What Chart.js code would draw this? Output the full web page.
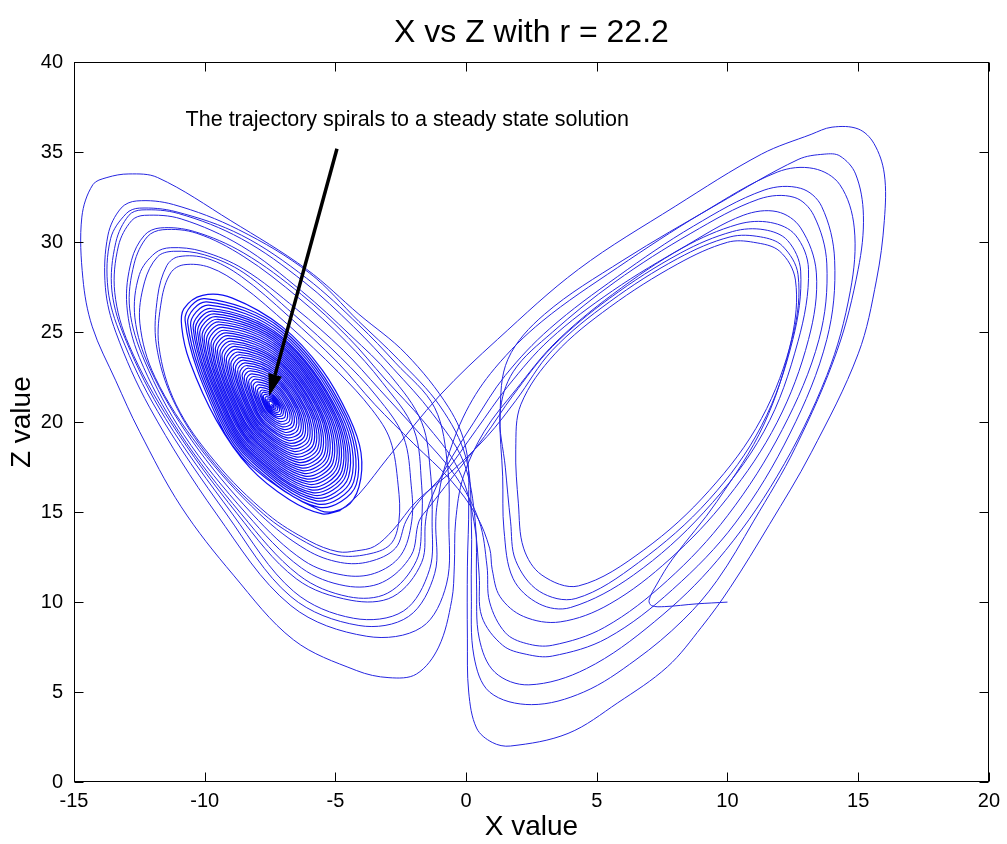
<!DOCTYPE html>
<html>
<head>
<meta charset="utf-8">
<title>X vs Z with r = 22.2</title>
<script src="https://cdn.jsdelivr.net/npm/chart.js@4.4.1/dist/chart.umd.min.js"></script>
<style>
  html, body { margin: 0; padding: 0; background: #fff; }
  canvas { display: block; }
</style>
</head>
<body>
<canvas id="lorenzChart" width="1007" height="844"></canvas>
<script>
// Trajectory as [x, z] pairs, in the order it is travelled.

// start near (10, 10), first loops on the right wing, over to the left wing
const trajStart = [
  [10.0,10.0],[8.8,9.9],[7.6,9.75],[7.1,9.8],[7.0,10.1],[7.3,11.0],[7.9,12.4],[9.6,15.6],[11.4,19.9],
  [12.45,24.6],[12.6,27.9],[12.0,29.5],[11.0,30.0],[10.0,30.0],[8.1,28.8],[5.5,26.4],[3.4,23.8],[2.1,21.0],
  [1.9,18.5],[2.0,15.5],[2.2,13.0],[2.9,11.5],[4.3,10.9],
  [6.8,12.9],[9.3,16.2],[11.3,20.2],[12.5,24.8],[12.7,28.2],[12.1,29.8],[11.27,30.3],[10.1,30.3],[8.1,29.1],
  [5.5,26.7],[3.3,24.0],[1.9,21.2],
  [0.8,19.2],[-0.6,17.2],[-1.9,15.6]
];

const trajEarly = [
  [-2.8,14.0],[-3.5,13.1],[-4.2,12.85],[-4.9,12.8],[-6.0,13.4],[-7.6,14.9],[-9.6,17.8],[-11.1,21.0],
  [-11.75,24.2],[-11.65,26.8],[-11.3,28.3],[-10.8,28.75],[-9.8,28.6],[-8.6,27.6],[-6.8,25.4],[-4.9,22.8],[-3.6,20.7],
  [-2.9,19.0],[-2.6,16.5],
  [-2.57,14.5],[-2.9,13.2],[-3.8,12.65],[-4.9,12.6],[-6.1,13.3],[-7.75,14.9],[-9.8,18.0],[-11.2,21.2],
  [-11.85,24.3],[-11.8,27.0],[-11.45,28.7],[-11.0,29.2],[-9.9,29.1],[-8.6,28.1],[-6.8,25.9],[-4.9,23.3],[-3.5,21.0],
  [-2.0,18.8],[-0.6,16.8],[0.4,14.8],[0.9,13.0],[1.0,11.8],[1.3,10.3],[2.2,9.2],
  [3.6,8.9],[5.5,9.9],[7.8,12.4],[10.0,15.8],[11.9,20.0],[13.1,24.6],[13.4,28.3],[12.8,30.8],[11.9,31.7],
  [10.6,31.5],[8.4,29.8],[5.6,27.3],[3.2,24.6],[1.6,22.0],
  [0.4,19.6],[-0.8,17.2],[-1.8,15.6],
  [-2.3,14.5],[-2.7,13.0],[-3.7,12.25],[-4.8,12.2],[-6.1,12.9],[-7.9,14.9],[-10.2,18.6],[-11.9,22.5],
  [-12.48,25.5],[-12.3,27.8],[-11.8,29.2],[-11.2,29.5],[-10.0,29.3],[-8.5,28.3],[-6.6,26.0],[-4.8,23.6],[-3.4,21.4],
  [-2.4,19.2],[-2.1,16.5]
];

const trajMiddle = [
  [-2.08,14.5],[-2.5,12.6],[-3.5,11.6],[-4.7,11.5],[-6.2,12.3],[-8.18,14.9],[-10.5,19.0],[-12.1,23.0],
  [-12.67,25.8],[-12.5,28.2],[-11.9,29.4],[-11.3,29.7],[-10.1,29.5],[-8.5,28.5],[-6.5,26.3],[-4.7,24.0],[-3.3,21.8],
  [-1.8,19.4],[-0.4,17.0],[0.5,14.5],[0.8,12.0],[0.9,10.0],[1.5,8.3],[2.3,7.7],
  [3.3,7.6],[5.3,8.6],[7.7,11.2],[10.0,14.8],[12.1,19.6],[13.5,24.6],[13.8,28.8],[13.3,31.5],[12.55,32.5],
  [11.2,32.4],[8.6,30.5],[5.7,27.8],[3.3,25.0],[1.8,22.8],[1.3,20.5],
  [1.5,17.5],[1.7,14.5],[1.9,12.3],[2.8,10.6],
  [4.2,10.2],[6.6,12.2],[9.3,15.7],[11.3,19.8],[12.5,24.6],[12.8,28.4],[12.3,30.1],[11.4,30.7],[10.2,30.6],
  [8.2,29.4],[5.5,26.9],[3.3,24.2],[1.8,21.5],
  [0.7,19.2],[-0.6,16.8],[-1.4,15.3],
  [-1.8,14.5],[-2.1,12.6],[-3.2,11.1],[-4.6,10.9],[-6.3,11.9],[-8.4,14.9],[-10.8,19.3],[-12.3,23.4],
  [-12.87,26.3],[-12.7,28.8],[-12.2,30.3],[-11.6,30.7],[-10.3,30.5],[-8.5,29.2],[-6.4,26.9],[-4.6,24.5],[-3.2,22.2],
  [-2.0,19.6],[-1.7,16.5],
  [-1.7,14.5],[-1.9,12.3],[-3.0,10.5],[-4.5,10.3],[-6.4,11.5],[-8.6,14.9],[-11.0,19.5],[-12.5,23.6],
  [-12.98,26.5],[-12.8,29.0],[-12.3,30.4],[-11.7,30.8],[-10.4,30.6],[-8.5,29.4],[-6.3,27.1],[-4.5,24.7],[-3.1,22.4]
];

const trajLate = [
  [-1.6,20.0],[-0.3,17.4],[0.3,14.5],[0.5,11.5],[0.6,9.2],[1.4,7.6],[2.3,7.1],
  [3.3,7.0],[5.4,8.0],[7.9,10.7],[10.3,14.4],[12.4,19.4],[13.8,24.6],[14.1,29.0],[13.6,32.0],[12.8,33.0],
  [11.4,32.9],[8.7,30.9],[5.8,28.1],[3.2,25.2],[1.5,22.6],
  [0.3,20.0],[-0.8,17.4],[-1.4,15.5],
  [-1.55,14.5],[-1.7,12.2],[-2.8,10.3],[-4.4,10.1],[-6.5,11.3],[-8.75,14.9],[-11.3,20.0],[-12.9,24.3],
  [-13.44,27.2],[-13.3,29.8],[-12.8,31.2],[-12.3,31.5],[-10.9,31.3],[-8.6,29.8],[-6.3,27.3],[-4.4,24.8],[-2.9,22.6],
  [-1.7,20.0],[-1.35,17.0],
  [-1.3,14.5],[-1.4,11.8],[-2.4,9.5],[-4.3,9.1],[-6.6,10.6],[-8.94,14.9],[-11.5,20.2],[-13.0,24.5],
  [-13.55,27.3],[-13.4,30.0],[-12.9,31.5],[-12.4,31.8],[-11.0,31.6],[-8.6,30.2],[-6.2,27.8],[-4.3,25.3],[-2.8,23.0],
  [-1.3,20.5],[-0.1,17.8],[0.35,14.5],[0.4,11.0],[0.5,8.0],[1.1,6.1],
  [2.4,5.4],[4.6,6.3],[7.2,8.9],[9.6,12.3],[11.9,17.0],[13.8,22.6],[14.7,27.3],[14.85,30.8],[14.3,33.2],
  [13.3,34.1],[11.9,33.9],[9.0,31.6],[5.8,28.6],[2.9,25.6],[1.1,23.0],
  [0.0,20.6],[-0.8,17.6],[-1.1,15.5],
  [-1.16,14.5],[-1.2,11.6],[-2.2,9.2],[-4.1,8.7],[-6.7,10.3],[-9.17,14.9],[-11.8,20.6],[-13.2,24.8],
  [-13.7,27.4],[-13.6,30.2],[-13.0,31.6],[-12.5,31.9],[-11.1,31.7],[-8.6,30.4],[-6.1,28.0],[-4.1,25.4],[-2.7,23.3],
  [-1.2,20.8],[-0.7,17.5]
];

// last swings, then the long right-wing loop that drops into the left spiral
const trajFinal = [
  [-0.66,14.5],[-0.75,11.0],[-1.7,8.6],[-3.8,8.1],[-6.7,9.8],[-9.55,14.9],[-12.1,20.8],[-13.4,25.0],
  [-13.8,27.5],[-13.7,30.4],[-13.2,31.9],[-12.6,32.3],[-11.2,32.1],[-8.7,30.7],[-6.0,28.3],[-4.1,25.6],[-2.6,23.5],
  [-1.0,20.9],[0.0,18.0],[0.2,14.5],[0.2,10.5],[0.3,7.0],[0.9,5.0],
  [2.5,4.3],[4.5,5.0],[6.5,6.8],[8.3,9.0],[9.6,11.2],[11.0,14.5],[12.6,18.6],[14.2,24.0],[15.0,28.5],
  [15.2,31.5],[14.9,33.8],[14.3,34.8],[13.7,34.9],[12.7,34.6],[9.6,32.1],[6.0,29.0],[3.0,26.0],[1.6,23.5],[1.3,20.5],
  [1.4,17.0],[1.45,14.0],[1.8,11.3],[2.8,9.9],
  [4.0,9.7],[6.4,11.5],[9.1,15.0],[11.4,19.5],[12.7,24.5],[13.1,28.5],[12.6,30.4],[11.65,31.1],[10.4,31.0],
  [8.3,29.7],[5.6,27.1],[3.4,24.4],[1.9,21.8],
  [0.7,19.5],[-0.1,17.0],
  [-0.4,14.5],[-0.45,12.0],[-0.55,10.1],[-1.05,7.5],[-1.9,6.0],[-2.95,5.8],[-4.2,6.2],[-6.6,7.9],[-8.9,11.5],
  [-10.9,15.3],[-12.5,19.5],[-13.4,22.3],[-14.3,25.3],[-14.66,28.0],[-14.7,31.4],[-14.28,33.2],[-13.74,33.6],
  [-12.9,33.8],[-11.8,33.6],[-9.0,31.2],[-6.1,28.5],[-4.1,26.0],[-2.3,23.8],[-0.66,20.8],
  [0.0,18.5],[0.1,15.5],[0.05,12.0],[0.05,8.0],[0.1,5.0],[0.4,3.0],[1.0,2.2],
  [1.7,2.0],[3.9,2.7],[5.8,4.4],[7.7,6.4],[9.0,8.6],[10.1,10.8],[11.6,14.3],[13.2,18.3],[15.0,23.8],
  [15.7,27.9],[16.0,31.2],[16.0,33.8],[15.6,35.5],[15.0,36.3],[14.0,36.4],[13.2,36.0],[11.3,34.9],[8.0,32.0],
  [4.3,28.5],[1.2,24.6],[-1.0,21.5],[-2.95,18.1],[-4.1,16.0],[-4.8,15.1]
];

// the spiral into the steady state near (-7.45, 21.0), one row per turn
const spiralRings = [
  [-5.5,14.9],[-6.77,15.7],[-8.29,17.5],[-9.55,20.1],[-10.58,23.4],[-10.88,25.3],[-10.8,26.3],[-10.08,27.05],
  [-8.94,26.9],[-7.03,25.3],[-5.5,22.9],[-4.48,20.3],[-4.02,18.3],[-4.1,16.4],[-4.6,15.3],
  [-5.56,15.08],[-8.26,17.60],[-9.49,20.13],[-10.75,25.66],[-10.00,26.87],[-7.04,25.17],[-4.57,20.32],[-4.20,16.54],
  [-5.62,15.27],[-8.24,17.71],[-9.42,20.15],[-10.65,25.51],[-9.92,26.69],[-7.06,25.04],[-4.66,20.34],[-4.30,16.68],
  [-5.68,15.45],[-8.21,17.82],[-9.36,20.18],[-10.54,25.37],[-9.84,26.51],[-7.07,24.91],[-4.75,20.36],[-4.40,16.81],
  [-5.73,15.63],[-8.19,17.92],[-9.30,20.21],[-10.44,25.22],[-9.76,26.32],[-7.08,24.78],[-4.84,20.38],[-4.50,16.95],
  [-5.78,15.78],[-8.17,18.01],[-9.25,20.23],[-10.36,25.10],[-9.70,26.17],[-7.09,24.68],[-4.91,20.40],[-4.59,17.07],
  [-5.83,15.94],[-8.15,18.10],[-9.19,20.25],[-10.27,24.98],[-9.63,26.02],[-7.10,24.57],[-4.99,20.42],[-4.67,17.18],
  [-5.88,16.09],[-8.13,18.18],[-9.14,20.28],[-10.19,24.86],[-9.57,25.87],[-7.11,24.46],[-5.06,20.44],[-4.75,17.30],
  [-5.93,16.24],[-8.11,18.27],[-9.09,20.30],[-10.10,24.74],[-9.50,25.72],[-7.12,24.35],[-5.13,20.45],[-4.84,17.41],
  [-5.98,16.39],[-8.08,18.36],[-9.04,20.32],[-10.02,24.62],[-9.44,25.57],[-7.13,24.25],[-5.21,20.47],[-4.92,17.53],
  [-6.03,16.55],[-8.06,18.45],[-8.98,20.34],[-9.93,24.50],[-9.37,25.42],[-7.14,24.14],[-5.28,20.49],[-5.00,17.64],
  [-6.08,16.70],[-8.04,18.53],[-8.93,20.37],[-9.85,24.38],[-9.30,25.27],[-7.15,24.03],[-5.36,20.51],[-5.09,17.76],
  [-6.12,16.85],[-8.02,18.62],[-8.88,20.39],[-9.76,24.26],[-9.24,25.11],[-7.16,23.92],[-5.43,20.52],[-5.17,17.87],
  [-6.17,17.00],[-8.00,18.71],[-8.83,20.41],[-9.68,24.14],[-9.17,24.96],[-7.18,23.82],[-5.51,20.54],[-5.26,17.99],
  [-6.22,17.16],[-7.98,18.80],[-8.77,20.43],[-9.59,24.02],[-9.11,24.81],[-7.19,23.71],[-5.58,20.56],[-5.34,18.10],
  [-6.27,17.31],[-7.96,18.88],[-8.72,20.46],[-9.51,23.90],[-9.04,24.66],[-7.20,23.60],[-5.65,20.58],[-5.42,18.22],
  [-6.32,17.46],[-7.94,18.97],[-8.67,20.48],[-9.42,23.78],[-8.98,24.51],[-7.21,23.49],[-5.73,20.59],[-5.51,18.33],
  [-6.37,17.61],[-7.92,19.06],[-8.62,20.50],[-9.34,23.66],[-8.91,24.36],[-7.22,23.39],[-5.80,20.61],[-5.59,18.45],
  [-6.42,17.77],[-7.90,19.15],[-8.56,20.52],[-9.25,23.54],[-8.84,24.21],[-7.23,23.28],[-5.88,20.63],[-5.67,18.56],
  [-6.47,17.92],[-7.87,19.23],[-8.51,20.55],[-9.17,23.42],[-8.78,24.06],[-7.24,23.17],[-5.95,20.65],[-5.76,18.68],
  [-6.51,18.07],[-7.85,19.32],[-8.46,20.57],[-9.08,23.30],[-8.71,23.90],[-7.25,23.06],[-6.02,20.66],[-5.84,18.79],
  [-6.56,18.22],[-7.83,19.41],[-8.41,20.59],[-9.00,23.18],[-8.65,23.75],[-7.26,22.96],[-6.10,20.68],[-5.93,18.91],
  [-6.61,18.38],[-7.81,19.50],[-8.35,20.61],[-8.91,23.06],[-8.58,23.60],[-7.27,22.85],[-6.17,20.70],[-6.01,19.02],
  [-6.66,18.53],[-7.79,19.58],[-8.30,20.64],[-8.83,22.94],[-8.52,23.45],[-7.28,22.74],[-6.25,20.72],[-6.09,19.14],
  [-6.71,18.68],[-7.77,19.67],[-8.25,20.66],[-8.74,22.82],[-8.45,23.30],[-7.29,22.63],[-6.32,20.73],[-6.18,19.25],
  [-6.76,18.83],[-7.75,19.76],[-8.20,20.68],[-8.66,22.70],[-8.38,23.15],[-7.30,22.53],[-6.40,20.75],[-6.26,19.37],
  [-6.81,18.99],[-7.73,19.85],[-8.14,20.70],[-8.57,22.58],[-8.32,23.00],[-7.31,22.42],[-6.47,20.77],[-6.34,19.48],
  [-6.86,19.14],[-7.71,19.93],[-8.09,20.73],[-8.49,22.46],[-8.25,22.85],[-7.32,22.31],[-6.54,20.79],[-6.43,19.60],
  [-6.90,19.29],[-7.69,20.02],[-8.04,20.75],[-8.40,22.34],[-8.19,22.69],[-7.33,22.20],[-6.62,20.80],[-6.51,19.71],
  [-6.95,19.44],[-7.66,20.11],[-7.99,20.77],[-8.32,22.22],[-8.12,22.54],[-7.34,22.10],[-6.69,20.82],[-6.60,19.83],
  [-7.00,19.60],[-7.64,20.20],[-7.93,20.79],[-8.23,22.10],[-8.06,22.39],[-7.35,21.99],[-6.77,20.84],[-6.68,19.94],
  [-7.05,19.75],[-7.62,20.28],[-7.88,20.82],[-8.15,21.98],[-7.99,22.24],[-7.36,21.88],[-6.84,20.86],[-6.76,20.06],
  [-7.10,19.90],[-7.60,20.37],[-7.83,20.84],[-8.06,21.86],[-7.92,22.09],[-7.37,21.77],[-6.92,20.87],[-6.85,20.17],
  [-7.15,20.05],[-7.58,20.46],[-7.78,20.86],[-7.98,21.74],[-7.86,21.94],[-7.39,21.67],[-6.99,20.89],[-6.93,20.29],
  [-7.20,20.21],[-7.56,20.55],[-7.72,20.88],[-7.89,21.62],[-7.79,21.79],[-7.40,21.56],[-7.06,20.91],[-7.01,20.40],
  [-7.24,20.33],[-7.54,20.62],[-7.68,20.90],[-7.82,21.53],[-7.74,21.67],[-7.40,21.47],[-7.12,20.92],[-7.08,20.49],
  [-7.27,20.45],[-7.53,20.69],[-7.64,20.92],[-7.76,21.43],[-7.69,21.55],[-7.41,21.39],[-7.18,20.94],[-7.15,20.59],
  [-7.31,20.57],[-7.51,20.76],[-7.60,20.94],[-7.69,21.34],[-7.63,21.42],[-7.42,21.30],[-7.24,20.95],[-7.22,20.68],
  [-7.35,20.70],[-7.49,20.83],[-7.56,20.96],[-7.62,21.24],[-7.58,21.30],[-7.43,21.22],[-7.30,20.97],[-7.28,20.77],
  [-7.39,20.82],[-7.48,20.90],[-7.51,20.97],[-7.55,21.14],[-7.53,21.18],[-7.44,21.13],[-7.36,20.98],[-7.35,20.86],
  [-7.45,21.0]
];

const xTicks = [-15, -10, -5, 0, 5, 10, 15, 20];
const zTicks = [0, 5, 10, 15, 20, 25, 30, 35, 40];

// annotation, in data units
const noteText = 'The trajectory spirals to a steady state solution';
const noteAt = [-10.73, 36.8];
const arrowFrom = [-4.94, 35.2];
const arrowTo = [-7.53, 21.45];

const FONT = '"Liberation Sans", Arial, Helvetica, sans-serif';

const toXY = p => ({ x: p[0], y: p[1] });
const transient = [...trajStart, ...trajEarly, ...trajMiddle, ...trajLate, ...trajFinal].map(toXY);
// the spiral carries on from the last transient point, drawn a touch stronger
const spiral = [trajFinal[trajFinal.length - 1], ...spiralRings].map(toXY);

// box round the axes, inward tick marks, the note and its arrow
const frameAndNote = {
  id: 'frameAndNote',
  afterDatasetsDraw(chart) {
    const { ctx, chartArea: a, scales: { x, y } } = chart;
    const L = Math.round(a.left) + 0.5, R = Math.round(a.right) - 0.5;
    const T = Math.round(a.top) + 0.5, B = Math.round(a.bottom) - 0.5;
    ctx.save();
    ctx.strokeStyle = '#000';
    ctx.lineWidth = 1;
    ctx.strokeRect(L, T, R - L, B - T);
    ctx.beginPath();
    xTicks.forEach(v => {
      const px = Math.round(x.getPixelForValue(v)) + 0.5;
      ctx.moveTo(px, B); ctx.lineTo(px, B - 9);
      ctx.moveTo(px, T); ctx.lineTo(px, T + 9);
    });
    zTicks.forEach(v => {
      const py = Math.round(y.getPixelForValue(v)) + 0.5;
      ctx.moveTo(L, py); ctx.lineTo(L + 9, py);
      ctx.moveTo(R, py); ctx.lineTo(R - 9, py);
    });
    ctx.stroke();

    ctx.fillStyle = '#000';
    ctx.font = '21.5px ' + FONT;
    ctx.textBaseline = 'middle';
    ctx.textAlign = 'left';
    ctx.fillText(noteText, x.getPixelForValue(noteAt[0]), y.getPixelForValue(noteAt[1]));

    const x0 = x.getPixelForValue(arrowFrom[0]), y0 = y.getPixelForValue(arrowFrom[1]);
    const x1 = x.getPixelForValue(arrowTo[0]), y1 = y.getPixelForValue(arrowTo[1]);
    const ang = Math.atan2(y1 - y0, x1 - x0);
    const headLen = 22, headHalf = 7;
    const bx = x1 - headLen * Math.cos(ang), by = y1 - headLen * Math.sin(ang);
    ctx.lineWidth = 3.5;
    ctx.beginPath();
    ctx.moveTo(x0, y0);
    ctx.lineTo(bx, by);
    ctx.stroke();
    ctx.beginPath();
    ctx.moveTo(x1, y1);
    ctx.lineTo(bx + headHalf * Math.sin(ang), by - headHalf * Math.cos(ang));
    ctx.lineTo(bx - headHalf * Math.sin(ang), by + headHalf * Math.cos(ang));
    ctx.closePath();
    ctx.fill();
    ctx.restore();
  }
};

new Chart(document.getElementById('lorenzChart').getContext('2d'), {
  type: 'scatter',
  data: {
    datasets: [{
      label: 'transient',
      data: transient,
      showLine: true,
      borderColor: '#2525e0',
      borderWidth: 1,
      pointRadius: 0,
      tension: 0.35,
      fill: false
    }, {
      label: 'spiral',
      data: spiral,
      showLine: true,
      borderColor: '#0d0df2',
      borderWidth: 1.2,
      pointRadius: 0,
      tension: 0.35,
      fill: false
    }]
  },
  options: {
    responsive: false,
    animation: false,
    devicePixelRatio: 1,
    events: [],
    layout: { padding: { left: 0, right: 15, top: 0, bottom: 0 } },
    plugins: {
      legend: { display: false },
      tooltip: { enabled: false },
      title: {
        display: true,
        text: 'X vs Z with r = 22.2',
        fullSize: false,
        color: '#000',
        font: { family: FONT, size: 32, weight: 'normal' },
        padding: { top: 14, bottom: 10 }
      }
    },
    scales: {
      x: {
        type: 'linear',
        min: -15, max: 20,
        afterBuildTicks: s => { s.ticks = xTicks.map(v => ({ value: v })); },
        afterFit: s => { s.height = 62; },
        grid: { display: false, drawTicks: false },
        border: { display: false },
        ticks: { color: '#000', padding: 7, font: { family: FONT, size: 20 }, maxRotation: 0 },
        title: { display: true, text: 'X value', color: '#000', font: { family: FONT, size: 28 }, padding: { top: 0, bottom: 0 } }
      },
      y: {
        type: 'linear',
        min: 0, max: 40,
        afterBuildTicks: s => { s.ticks = zTicks.map(v => ({ value: v })); },
        afterFit: s => { s.width = 74; },
        grid: { display: false, drawTicks: false },
        border: { display: false },
        ticks: { color: '#000', padding: 11, font: { family: FONT, size: 20 } },
        title: { display: true, text: 'Z value', color: '#000', font: { family: FONT, size: 28 }, padding: { top: 5, bottom: 0 } }
      }
    }
  },
  plugins: [frameAndNote]
});
</script>
</body>
</html>
